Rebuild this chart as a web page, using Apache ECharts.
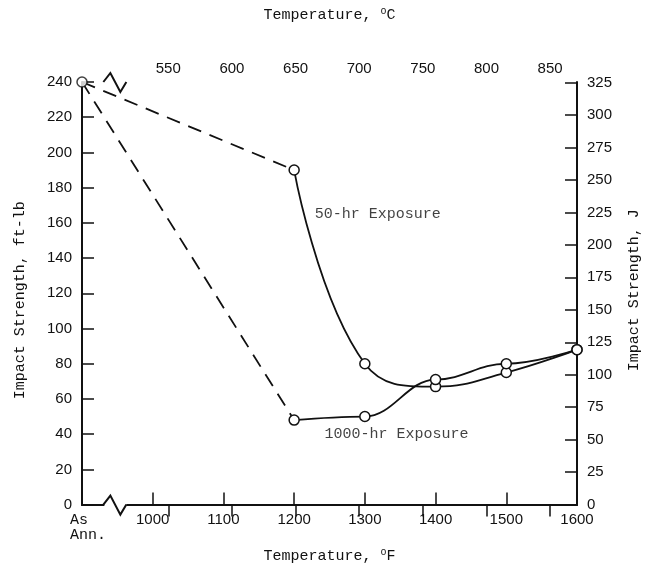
<!DOCTYPE html>
<html>
<head>
<meta charset="utf-8">
<title>Impact Strength vs Temperature</title>
<script src="https://cdn.jsdelivr.net/npm/echarts@6/dist/echarts.min.js"></script>
<style>
  html, body { margin: 0; padding: 0; background: #fff; }
  #chart { width: 650px; height: 569px; }
</style>
</head>
<body>
<div id="chart"></div>
<script>
// "As Ann." sits at the left end of the °F axis (drawn at 900 F)
const AS_ANN = 900;
const tempF = [1200, 1300, 1400, 1500, 1600];
const impact50hr = [190, 80, 67, 75, 88];     // ft-lb
const impact1000hr = [48, 50, 71, 80, 88];    // ft-lb
const asAnnealed = 240;                        // ft-lb

const tickC = [550, 600, 650, 700, 750, 800, 850];
const tickJ = [0, 25, 50, 75, 100, 125, 150, 175, 200, 225, 250, 275, 300, 325];

const labelNames = ['50-hr Exposure', '1000-hr Exposure'];
const labelPos = [[1229, 165], [1243, 40]];

const FT_LB_TO_J = 1.35582;
const F_MIN = 900, F_MAX = 1600, Y_MAX = 240;
const BREAK_F = 950;   // where the axis break zigzag sits
const fToC = f => (f - 32) / 1.8;

const mono = '"Liberation Mono", "DejaVu Sans Mono", monospace';
const sans = '"Liberation Sans", Arial, sans-serif';
const ink = '#111';

const pair = (xs, ys) => xs.map((x, i) => [x, ys[i]]);

const chart = echarts.init(document.getElementById('chart'));

const axisText = { color: ink, fontFamily: sans, fontSize: 15 };
const nameText = (extra) => Object.assign({
  color: ink, fontFamily: mono, fontSize: 15,
  rich: { sup: { fontFamily: mono, fontSize: 10, verticalAlign: 'top', padding: [0, 0, 8, 0], color: ink } }
}, extra || {});

const option = {
  animation: false,
  grid: { left: 82, right: 65, top: 82, bottom: 55 },
  xAxis: [
    {
      type: 'value', position: 'bottom', min: F_MIN, max: F_MAX, interval: 100,
      name: 'Temperature, {sup|o}F', nameLocation: 'middle', nameGap: 38,
      nameTextStyle: nameText(),
      axisLine: { lineStyle: { color: ink, width: 2 } },
      axisTick: { inside: true, length: 12, lineStyle: { color: ink, width: 1.5 } },
      axisLabel: Object.assign({}, axisText, {
        margin: 8, lineHeight: 15,
        formatter: v => v === AS_ANN ? '{ann|As}\n{ann|Ann.}' : String(v),
        rich: {
          ann: { fontFamily: mono, fontSize: 15, color: ink, width: 36, align: 'left', padding: [0, 0, 0, 12], lineHeight: 15 }
        }
      }),
      splitLine: { show: false }
    },
    {
      type: 'value', position: 'top', min: fToC(F_MIN), max: fToC(F_MAX),
      name: 'Temperature, {sup|o}C', nameLocation: 'middle', nameGap: 58,
      nameTextStyle: nameText(),
      axisLine: { lineStyle: { color: ink, width: 2 } },
      axisTick: { inside: true, length: 12, customValues: tickC, lineStyle: { color: ink, width: 1.5 } },
      axisLabel: Object.assign({}, axisText, { margin: 6, customValues: tickC }),
      splitLine: { show: false }
    }
  ],
  yAxis: [
    {
      type: 'value', position: 'left', min: 0, max: Y_MAX, interval: 20,
      name: 'Impact Strength, ft-lb', nameLocation: 'middle', nameGap: 54,
      nameTextStyle: nameText({ padding: [0, 14, 0, 0] }),
      axisLine: { lineStyle: { color: ink, width: 2 } },
      axisTick: { inside: true, length: 12, lineStyle: { color: ink, width: 1.5 } },
      axisLabel: Object.assign({}, axisText, { margin: 10 }),
      splitLine: { show: false }
    },
    {
      type: 'value', position: 'right', min: 0, max: Y_MAX * FT_LB_TO_J,
      name: 'Impact Strength, J', nameLocation: 'middle', nameGap: 50,
      nameTextStyle: nameText({ padding: [0, 0, 0, 6] }), nameRotate: 90,
      axisLine: { lineStyle: { color: ink, width: 2 } },
      axisTick: { inside: true, length: 12, customValues: tickJ, lineStyle: { color: ink, width: 1.5 } },
      axisLabel: Object.assign({}, axisText, { margin: 10, customValues: tickJ }),
      splitLine: { show: false }
    }
  ],
  series: [
    // dashed legs from the annealed value to the first aged point
    {
      type: 'line', data: [[AS_ANN, asAnnealed], [tempF[0], impact50hr[0]]],
      symbol: 'none', lineStyle: { color: ink, width: 1.8, type: [14, 9] }, z: 3
    },
    {
      type: 'line', data: [[AS_ANN, asAnnealed], [tempF[0], impact1000hr[0]]],
      symbol: 'none', lineStyle: { color: ink, width: 1.8, type: [14, 9] }, z: 3
    },
    {
      name: '50-hr Exposure', type: 'line', data: pair(tempF, impact50hr),
      smooth: 0.45,
      symbol: 'circle', symbolSize: 10,
      itemStyle: { color: '#fff', borderColor: ink, borderWidth: 1.5 },
      lineStyle: { color: ink, width: 1.8 }, z: 4
    },
    {
      name: '1000-hr Exposure', type: 'line', data: pair(tempF, impact1000hr),
      smooth: 0.4, smoothMonotone: 'x',
      symbol: 'circle', symbolSize: 10,
      itemStyle: { color: '#fff', borderColor: ink, borderWidth: 1.5 },
      lineStyle: { color: ink, width: 1.8 }, z: 4
    },
    {
      // annealed starting point
      type: 'scatter', data: [[AS_ANN, asAnnealed]], symbolSize: 10,
      itemStyle: { color: '#fff', borderColor: ink, borderWidth: 1.5 }, z: 5
    },
    {
      // curve labels
      type: 'scatter', symbolSize: 0, z: 5,
      data: labelPos.map((p, i) => ({ value: p, name: labelNames[i] })),
      label: {
        show: true, position: 'right', distance: 0, formatter: '{b}',
        color: ink, fontFamily: mono, fontSize: 15
      },
      silent: true
    },
    {
      // axis break marks on the bottom and top axes
      type: 'custom', z: 6, silent: true,
      data: [[BREAK_F, 0], [BREAK_F, Y_MAX]],
      renderItem: (params, api) => {
        const p = api.coord([api.value(0), api.value(1)]);
        const x = p[0], y = p[1];
        return {
          type: 'group',
          children: [
            { type: 'rect', shape: { x: x - 13, y: y - 3, width: 22, height: 6 }, style: { fill: '#fff' } },
            {
              type: 'polyline',
              shape: { points: [[x - 14, y], [x - 7, y - 9], [x + 3, y + 10], [x + 9, y]] },
              style: { stroke: ink, lineWidth: 2, fill: null }
            }
          ]
        };
      }
    }
  ]
};

chart.setOption(option);
window.addEventListener('resize', () => chart.resize());
</script>
</body>
</html>
